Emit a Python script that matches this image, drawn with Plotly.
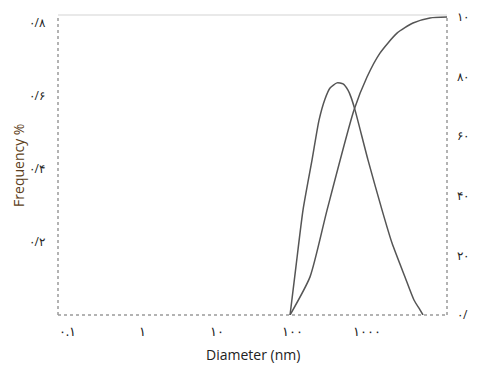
import plotly.graph_objects as go

# Frequency distribution (left axis)
freq_d = [93.8, 112.7, 139.9, 184.5, 228.7, 275, 321, 398, 479, 557, 611, 691, 1030, 1585, 2157, 3213, 4236, 5100, 5595]
freq_v = [0, 0.134, 0.288, 0.425, 0.534, 0.592, 0.622, 0.636, 0.633, 0.616, 0.597, 0.562, 0.425, 0.288, 0.197, 0.104, 0.041, 0.014, 0]

# Cumulative distribution (right axis)
cum_d = [93.8, 173.4, 292.6, 670, 1000, 1490, 2514, 4110, 6937, 11700]
cum_v = [0, 12.8, 35.2, 68.8, 79.9, 87.9, 94.6, 98.0, 99.7, 100]

x_tickvals = [0.1, 1, 10, 100, 1000]
x_ticktext = ["٠.١", "١", "١٠", "١٠٠", "١٠٠٠"]
y_tickvals = [0.2, 0.4, 0.6, 0.8]
y_ticktext = ["٠/٢", "٠/۴", "٠/۶", "٠/٨"]
y2_tickvals = [0, 20, 40, 60, 80, 100]
y2_ticktext = ["٠/٠", "٢٠", "۴٠", "۶٠", "٨٠", "١٠٠"]

line_col = "#555555"
font_fam = "Open Sans, Noto Sans, sans-serif"

fig = go.Figure()
fig.add_trace(go.Scatter(x=freq_d, y=freq_v, mode="lines", yaxis="y",
                         line=dict(color=line_col, width=1.5, shape="spline", smoothing=0.6),
                         showlegend=False))
fig.add_trace(go.Scatter(x=cum_d, y=cum_v, mode="lines", yaxis="y2",
                         line=dict(color=line_col, width=1.5, shape="spline", smoothing=0.6),
                         showlegend=False))

fig.update_layout(
    width=469, height=359,
    margin=dict(l=50, r=30, t=7, b=52, autoexpand=False),
    paper_bgcolor="white", plot_bgcolor="white",
    font=dict(family=font_fam, size=13, color="#222"),
    xaxis=dict(type="log", range=[-1.126, 4.068], tickvals=x_tickvals, ticktext=x_ticktext,
               showgrid=False, zeroline=False, showline=False, ticks="", automargin=False,
               ticklabelstandoff=7, tickfont=dict(size=13, color="#222")),
    yaxis=dict(range=[0, 0.822], tickvals=y_tickvals, ticktext=y_ticktext,
               showgrid=False, zeroline=False, showline=False, ticks="", automargin=False,
               ticklabelstandoff=12, tickfont=dict(size=12, color="#222")),
    yaxis2=dict(range=[0, 100.7], tickvals=y2_tickvals, ticktext=y2_ticktext,
                overlaying="y", side="right", automargin=False,
                showgrid=False, zeroline=False, showline=False, ticks="",
                ticklabelstandoff=9, tickfont=dict(size=12, color="#222")),
    shapes=[
        dict(type="line", xref="paper", yref="paper", x0=0, x1=1, y0=1, y1=1,
             line=dict(color="#e2e2e2", width=1.5)),
        dict(type="line", xref="paper", yref="paper", x0=0, x1=0, y0=0, y1=1,
             line=dict(color="#9a9a9a", width=1.5, dash="dot")),
        dict(type="line", xref="paper", yref="paper", x0=1, x1=1, y0=0, y1=1,
             line=dict(color="#9a9a9a", width=1.5, dash="dot")),
        dict(type="line", xref="paper", yref="paper", x0=0, x1=1, y0=0, y1=0,
             line=dict(color="#9a9a9a", width=1.5, dash="dot")),
    ],
    annotations=[
        dict(text="Diameter (nm)", xref="paper", yref="paper", x=0.5, y=-0.133,
             xanchor="center", yanchor="middle", showarrow=False,
             font=dict(size=14, color="#222", family=font_fam)),
        dict(text="Frequency %", xref="paper", yref="paper", x=-0.103, y=0.5,
             xanchor="center", yanchor="middle", showarrow=False, textangle=-90,
             font=dict(size=14, color="#5c4020", family=font_fam)),
    ],
)

fig.write_html("out.html")
